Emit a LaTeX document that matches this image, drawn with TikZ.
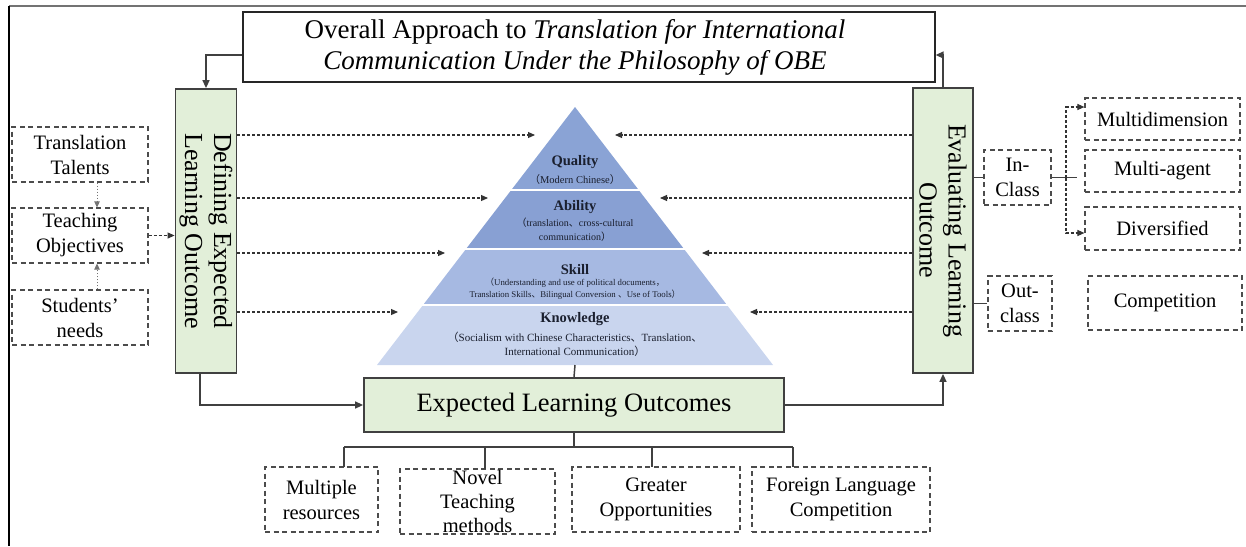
\documentclass[tikz,border=0pt]{standalone}
\usepackage{fontspec}
\setmainfont{Liberation Serif}
\newfontfamily\cjkfont{Noto Sans CJK SC}
\usetikzlibrary{arrows.meta}
\newcommand\cjklp{{\cjkfont （}}
\newcommand\cjkrp{{\cjkfont ）}}
\newcommand\cjkdun{{\cjkfont 、}}
\newcommand\cjkcom{{\cjkfont ，}}
\definecolor{greenfill}{HTML}{E2EFD9}
\definecolor{qualityblue}{HTML}{8AA3D5}
\definecolor{abilityblue}{HTML}{88A0D3}
\definecolor{skillblue}{HTML}{A6B9E2}
\definecolor{knowblue}{HTML}{C9D5EE}
\definecolor{pyrtext}{HTML}{1A1F2E}
\begin{document}
\begin{tikzpicture}[x=1pt,y=-1pt,
  titlebox/.style={draw=black!85, line width=1.3pt, minimum width=692pt, minimum height=70pt,
    inner sep=0pt},
  titletext/.style={align=center, inner sep=0pt, font=\fontsize{27}{31}\selectfont},
  greenbox/.style={draw=black!75, fill=greenfill, line width=1.8pt, inner sep=0pt},
  greentext/.style={rotate=-90, align=center, inner sep=0pt, font=\fontsize{26}{29}\selectfont},
  elobox/.style={draw=black!75, fill=greenfill, line width=1.8pt, inner sep=0pt,
    minimum width=420pt, minimum height=54pt, font=\fontsize{26.5}{30}\selectfont},
  dashbox/.style={draw=black!70, line width=1.2pt, dash pattern=on 5pt off 3.5pt,
    align=center, inner sep=0pt, font=\fontsize{20.5}{25}\selectfont},
  link/.style={draw=black!75, line width=1.5pt},
  arr/.style={link, -{Triangle[length=8pt,width=7pt]}},
  dotarr/.style={draw=black!80, line width=1.1pt, dash pattern=on 3pt off 2pt,
    -{Triangle[length=7pt,width=6pt]}},
  thinarr/.style={draw=black!55, line width=1pt, dash pattern=on 1.5pt off 1.5pt,
    -{Triangle[length=6pt,width=5.5pt]}},
  layerhead/.style={font=\fontsize{14.5}{16}\bfseries\selectfont, text=pyrtext, inner sep=0pt},
  layersub/.style={align=center, text=pyrtext, inner sep=0pt}
]
\useasboundingbox (0,0) rectangle (1246,546);

% outer frame
\draw[draw=black!55, line width=1.5pt] (9,6) -- (1246,6);
\draw[draw=black, line width=1.5pt] (9,6) -- (9,546);

% title
\node[titlebox] (title) at (589,47) {};
\node[titletext] (titlelabel) at (575,47)
  {Overall Approach to \textit{Translation for International}\\
   \textit{Communication Under the Philosophy of OBE}};

% side columns
\node[greenbox, minimum width=61pt, minimum height=284pt] (defbox) at (206,231) {};
\node[greentext] (deflabel) at (defbox.center) {Defining Expected\\Learning Outcome};
\node[greenbox, minimum width=60pt, minimum height=285pt] (evalbox) at (943,230.5) {};
\node[greentext] (evallabel) at (evalbox.center) {Evaluating Learning\\Outcome};

% pyramid
\fill[qualityblue] (575,107) -- (638.7,190) -- (511.3,190) -- cycle;
\fill[abilityblue] (511.3,190) -- (638.7,190) -- (684,249) -- (466,249) -- cycle;
\fill[skillblue] (466,249) -- (684,249) -- (726.95,305) -- (423.05,305) -- cycle;
\fill[knowblue] (423.05,305) -- (726.95,305) -- (773,365) -- (377,365) -- cycle;
\draw[white, line width=2.5pt] (500,190) -- (650,190);
\draw[white, line width=2.5pt] (455,249) -- (695,249);
\draw[white, line width=2.5pt] (412,305) -- (738,305);

\node[layerhead] (qhead) at (575,162) {Quality};
\node[layersub, font=\fontsize{10.5}{12}\selectfont] (qsub) at (575,180)
  {\cjklp Modern Chinese\cjkrp};
\node[layerhead] (ahead) at (575,207) {Ability};
\node[layersub, font=\fontsize{10}{14}\selectfont] (asub) at (575,230)
  {\cjklp translation\cjkdun cross-cultural\\communication\cjkrp};
\node[layerhead] (shead) at (575,270) {Skill};
\node[layersub, font=\fontsize{8.8}{12}\selectfont] (ssub) at (575,289)
  {\cjklp Understanding and use of political documents\cjkcom\\
   Translation Skills\cjkdun Bilingual Conversion \cjkdun Use of Tools\cjkrp};
\node[layerhead] (khead) at (575,319) {Knowledge};
\node[layersub, font=\fontsize{11}{14}\selectfont] (ksub) at (575,344)
  {\cjklp Socialism with Chinese Characteristics\cjkdun Translation\cjkdun\\
   International Communication\cjkrp};

% arrow targets on the pyramid
\coordinate (lq) at (535,135);
\coordinate (la) at (488,198);
\coordinate (ls) at (445,253);
\coordinate (lk) at (398,312);
\coordinate (rq) at (615,135);
\coordinate (ra) at (660,198);
\coordinate (rs) at (702,253);
\coordinate (rk) at (750,312);
\coordinate (pbase) at (575,365);

\foreach \p in {lq,la,ls,lk} \draw[dotarr] (defbox.east |- \p) -- (\p);
\foreach \p in {rq,ra,rs,rk} \draw[dotarr] (evalbox.west |- \p) -- (\p);

% expected learning outcomes
\node[elobox] (elo) at (574,405) {Expected Learning Outcomes};
\draw[link] (pbase) -- (elo.north);

% title loop connectors
\coordinate (tl) at (205,55);
\draw[arr] (title.west |- tl) -| (defbox.north);
\draw[arr] (evalbox.north) |- (title.east |- tl);
\draw[arr] ([xshift=-6pt]defbox.south) |- (elo.west);
\draw[arr] (elo.east) -| (evalbox.south);

% left dashed inputs
\node[dashbox, minimum width=136pt, minimum height=55pt] (tt) at (80,154.5) {Translation\\Talents};
\node[dashbox, minimum width=136pt, minimum height=55pt] (to) at (80,235.5) {Teaching\\Objectives};
\node[dashbox, minimum width=136pt, minimum height=55pt] (sn) at (80,317.5) {Students’\\needs};
\coordinate (xa) at (97,0);
\draw[thinarr] (tt.south -| xa) -- (to.north -| xa);
\draw[thinarr] (sn.north -| xa) -- (to.south -| xa);
\draw[dotarr] (to.east) -- (to.east -| defbox.west);

% bottom outcomes
\node[dashbox, minimum width=113pt, minimum height=65pt] (b1) at (321.5,499.5) {Multiple\\resources};
\node[dashbox, minimum width=155pt, minimum height=65pt, font=\fontsize{20.5}{24}\selectfont] (b2) at (477.5,501.5) {Novel\\Teaching\\methods};
\node[dashbox, minimum width=168pt, minimum height=65pt] (b3) at (656,499.5) {Greater\\Opportunities};
\node[dashbox, minimum width=178pt, minimum height=65pt] (b4) at (841,499.5) {Foreign Language\\Competition};
\coordinate (d1) at (344,447);
\coordinate (d2) at (485,447);
\coordinate (d3) at (652,447);
\coordinate (d4) at (793,447);
\draw[link] (elo.south) -- (elo.south |- d1);
\draw[link] (d1) -- (d4);
\draw[link] (d1) -- (d1 |- 0,466.5);
\draw[link] (d2) -- (d2 |- 0,468.5);
\draw[link] (d3) -- (d3 |- 0,466.5);
\draw[link] (d4) -- (d4 |- 0,466.5);

% evaluation branches
\node[dashbox, minimum width=67pt, minimum height=55pt] (ic) at (1017.5,177.5) {In-\\Class};
\node[dashbox, minimum width=64pt, minimum height=55pt] (oc) at (1020,303.5) {Out-\\class};
\node[dashbox, minimum width=155pt, minimum height=42pt] (md) at (1162.5,119) {Multidimension};
\node[dashbox, minimum width=155pt, minimum height=42pt] (ma) at (1162.5,171) {Multi-agent};
\node[dashbox, minimum width=155pt, minimum height=43pt] (dv) at (1162.5,228.5) {Diversified};
\node[dashbox, minimum width=154pt, minimum height=54pt] (cp) at (1165,303) {Competition};
\draw[link, line width=1.2pt] (evalbox.east |- ic.west) -- (ic.west);
\draw[link, line width=1.2pt] (evalbox.east |- oc.west) -- (oc.west);
\coordinate (vt) at (1066,0);
\coordinate (icj) at (1077,177.5);
\coordinate (mdy) at (0,107);
\coordinate (dvy) at (0,233);
\draw[link, line width=1.2pt] (ic.east) -- (icj);
\draw[dotarr] (ic.east -| vt) |- (md.west |- mdy);
\draw[dotarr] (ic.east -| vt) |- (dv.west |- dvy);
\end{tikzpicture}
\end{document}
